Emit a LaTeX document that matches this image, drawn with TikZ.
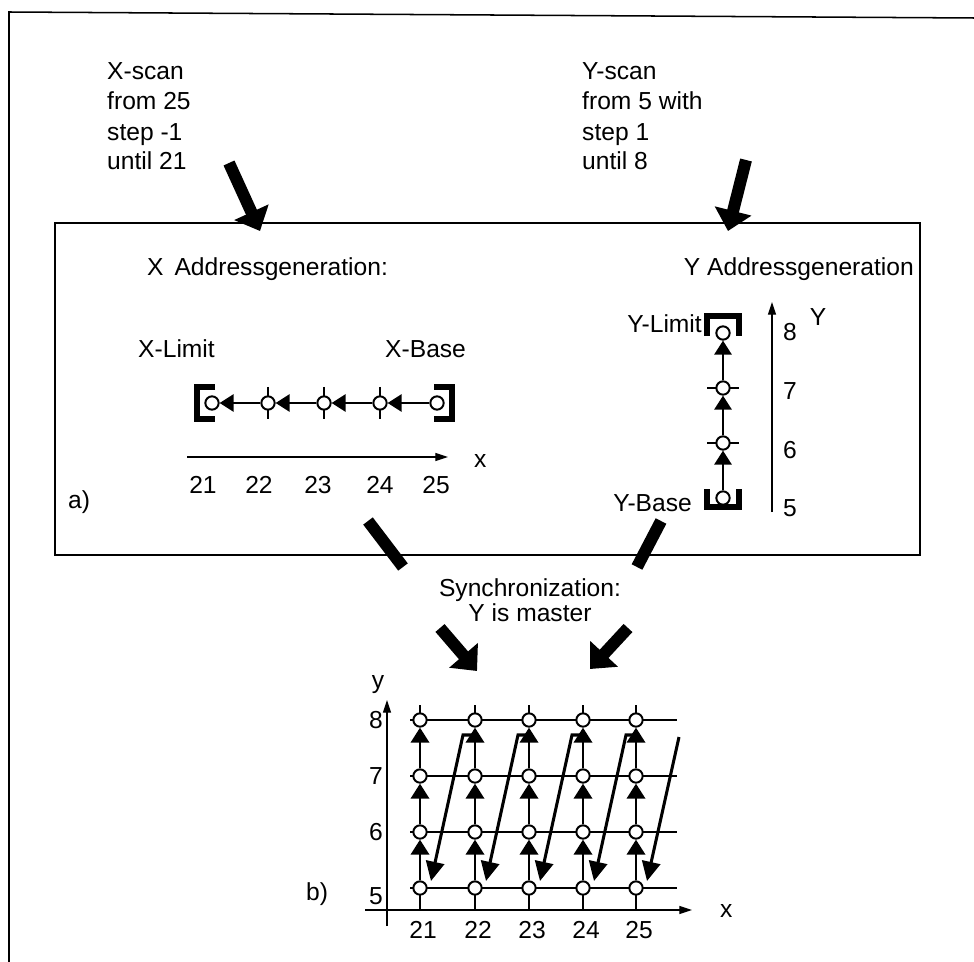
\documentclass[tikz,border=0pt]{standalone}
\usepackage{fontspec}
\setmainfont{Liberation Sans}
\usetikzlibrary{arrows.meta}
\begin{document}
\begin{tikzpicture}[x=0.03cm,y=-0.03cm]
\tikzset{
  every node/.style={font=\fontsize{21}{25}\selectfont},
  txt/.style={inner sep=0pt, anchor=base west},
  txtc/.style={inner sep=0pt, anchor=base},
  txte/.style={inner sep=0pt, anchor=base east},
  pt/.style={circle, draw, fill=white, line width=1.7pt, inner sep=0pt, minimum size=0.4cm},
  link/.style={line width=1.7pt, -{Triangle[length=0.42cm,width=0.52cm]}},
  vlink/.style={line width=2.2pt, -{Triangle[length=0.45cm,width=0.55cm]}},
  tickl/.style={line width=1.6pt},
  brk/.style={line width=4.5pt, line cap=butt, line join=miter},
  fat/.style={line width=0.36cm, -{Triangle[length=0.62cm,width=1.1cm]}},
  fatb/.style={line width=0.36cm},
  axisl/.style={line width=1.1pt, -{Triangle[length=0.38cm,width=0.24cm]}},
  gline/.style={line width=1pt},
  ret/.style={line width=2.6pt, line join=miter, -{Triangle[length=0.58cm,width=0.55cm]}},
  frame/.style={line width=1.3pt}
}
\useasboundingbox (0,0) rectangle (974,962);
% outer frame
\coordinate (fb) at (9,962); \coordinate (ftl) at (9,12); \coordinate (ftr) at (974,18);
\draw[frame] (fb) -- (ftl) -- (ftr);
% box a
\coordinate (ba1) at (55,223); \coordinate (ba2) at (920,555);
\draw[frame] (ba1) rectangle (ba2);

% top texts
\node[txt] (xs1) at (107,80) {X-scan};
\node[txt] (xs2) at (107,110) {from 25};
\node[txt] (xs3) at (107,141) {step -1};
\node[txt] (xs4) at (107,170) {until 21};
\node[txt] (ys1) at (582,80) {Y-scan};
\node[txt] (ys2) at (582,110) {from 5 with};
\node[txt] (ys3) at (582,141) {step 1};
\node[txt] (ys4) at (582,170) {until 8};

% top fat arrows
\coordinate (xa0) at (229,163); \coordinate (xa1) at (260,231);
\draw[fat] (xa0) -- (xa1);
\coordinate (ya0) at (746,160); \coordinate (ya1) at (728,231);
\draw[fat] (ya0) -- (ya1);

% labels in box a
\node[txt] (xag) at (147,276) {X\, Addressgeneration:};
\node[txte] (yag) at (914,276) {Y Addressgeneration};
\node[txt] (xlim) at (138,358) {X-Limit};
\node[txt] (xbase) at (385,358) {X-Base};
\node[txte] (ylim) at (702,333) {Y-Limit};
\node[txte] (ybase) at (692,511) {Y-Base};
\node[txt] (alab) at (68,508) {a)};

% X chain
\coordinate (x21) at (212,403);
\coordinate (x22) at (268,403);
\coordinate (x23) at (324,403);
\coordinate (x24) at (380,403);
\coordinate (x25) at (437,403);
\foreach \p in {x22,x23,x24} { \draw[tickl] (\p) ++(0,-16) -- ++(0,32); }
\draw[brk] (x21) ++(3,-16) -- ++(-18,0) -- ++(0,32) -- ++(18,0);
\draw[brk] (x25) ++(-3,-16) -- ++(18,0) -- ++(0,32) -- ++(-18,0);
\node[pt] (n21) at (x21) {};
\node[pt] (n22) at (x22) {};
\node[pt] (n23) at (x23) {};
\node[pt] (n24) at (x24) {};
\node[pt] (n25) at (x25) {};
\draw[link] (n25) -- (n24);
\draw[link] (n24) -- (n23);
\draw[link] (n23) -- (n22);
\draw[link] (n22) -- (n21);

% X axis a
\coordinate (xax0) at (187,457); \coordinate (xax1) at (448,457);
\draw[axisl] (xax0) -- (xax1);
\node[txt] (xlbl) at (474,467) {x};
\node[txtc] (xn21) at (203,493) {21};
\node[txtc] (xn22) at (259,493) {22};
\node[txtc] (xn23) at (318,493) {23};
\node[txtc] (xn24) at (380,493) {24};
\node[txtc] (xn25) at (436,493) {25};

% Y chain
\coordinate (y5) at (723,498);
\coordinate (y6) at (723,443);
\coordinate (y7) at (723,388);
\coordinate (y8) at (723,333);
\foreach \p in {y6,y7} { \draw[tickl] (\p) ++(-16,0) -- ++(32,0); }
\draw[brk] (y8) ++(-16,3) -- ++(0,-20) -- ++(32,0) -- ++(0,20);
\draw[brk] (y5) ++(-16,-9) -- ++(0,18) -- ++(32,0) -- ++(0,-18);
\node[pt] (m5) at (y5) {};
\node[pt] (m6) at (y6) {};
\node[pt] (m7) at (y7) {};
\node[pt] (m8) at (y8) {};
\draw[link] (m5) -- (m6);
\draw[link] (m6) -- (m7);
\draw[link] (m7) -- (m8);

% Y axis a
\coordinate (yax0) at (772,512); \coordinate (yax1) at (772,302);
\draw[axisl] (yax0) -- (yax1);
\node[txtc] (ylbl) at (818,326) {Y};
\node[txtc] (yn8) at (790,341) {8};
\node[txtc] (yn7) at (790,400) {7};
\node[txtc] (yn6) at (790,458) {6};
\node[txtc] (yn5) at (790,516) {5};

% bars to synchronization
\coordinate (sb1) at (368,521); \coordinate (sb2) at (403,567);
\draw[fatb] (sb1) -- (sb2);
\coordinate (sb3) at (661,521); \coordinate (sb4) at (637,567);
\draw[fatb] (sb3) -- (sb4);
\node[txtc] (sync1) at (530,596) {Synchronization:};
\node[txtc] (sync2) at (530,621) {Y is master};
\coordinate (sa0) at (440,628); \coordinate (sa1) at (477,671);
\draw[fat] (sa0) -- (sa1);
\coordinate (sa2) at (628,628); \coordinate (sa3) at (590,669);
\draw[fat] (sa2) -- (sa3);

% grid b
\foreach \y in {720,776,832,888} { \draw[gline] (410,\y) -- (677,\y); }
\foreach \x in {420,475,529,583,636} {
  \draw[gline] (\x,705) -- (\x,720);
  \draw[gline] (\x,888) -- (\x,910);
}
\coordinate (bx0) at (365,910); \coordinate (bx1) at (692,910);
\draw[axisl] (bx0) -- (bx1);
\coordinate (by0) at (387,926); \coordinate (by1) at (387,700);
\draw[axisl] (by0) -- (by1);
\foreach \c/\x in {1/420,2/475,3/529,4/583,5/636} {
  \foreach \r/\y in {5/888,6/832,7/776,8/720} {
    \node[pt] (g\c\r) at (\x,\y) {};
  }
}
\foreach \c in {1,...,5} {
  \draw[vlink] (g\c5) -- (g\c6);
  \draw[vlink] (g\c6) -- (g\c7);
  \draw[vlink] (g\c7) -- (g\c8);
}
\foreach \x/\nx in {420/475,475/529,529/583,583/636} {
  \draw[ret] (\nx,735) -- (\x+43,735) -- (\x+11,881);
}
\coordinate (r5a) at (679,737); \coordinate (r5b) at (647,881);
\draw[ret] (r5a) -- (r5b);

\node[txtc] (bylbl) at (378,688) {y};
\node[txt] (bxlbl) at (720,917) {x};
\node[txte] (bn8) at (383,728) {8};
\node[txte] (bn7) at (383,784) {7};
\node[txte] (bn6) at (383,840) {6};
\node[txte] (bn5) at (383,904) {5};
\node[txtc] (bx21) at (423,938) {21};
\node[txtc] (bx22) at (478,938) {22};
\node[txtc] (bx23) at (532,938) {23};
\node[txtc] (bx24) at (586,938) {24};
\node[txtc] (bx25) at (639,938) {25};
\node[txt] (blab) at (306,900) {b)};
\end{tikzpicture}
\end{document}
